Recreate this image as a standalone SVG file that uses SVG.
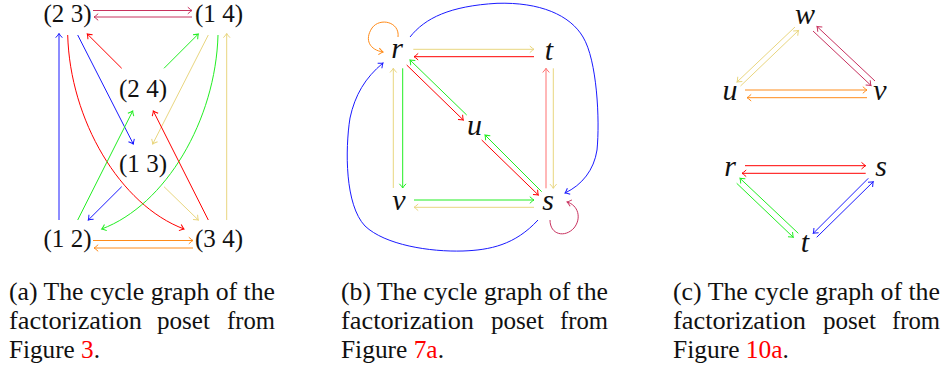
<svg xmlns="http://www.w3.org/2000/svg" width="943" height="372" viewBox="0 0 943 372">
<style>
.e{fill:none;stroke-width:1}
.rd{stroke:#ff0000}.bl{stroke:#1a1aff}.gr{stroke:#22ee22}.yl{stroke:#e9d67f}.or{stroke:#ff8c1a}.cr{stroke:#c8325f}.pr{stroke:#ff7070}
.lbl{font-family:"Liberation Serif","Tinos","Times New Roman",serif;font-size:25px;fill:#111;text-anchor:middle}
.var{font-family:"Liberation Serif","Tinos","Times New Roman",serif;font-style:italic;font-size:30px;fill:#111;text-anchor:middle}
.cap{font-family:"Liberation Serif","Tinos","Times New Roman",serif;font-size:25px;fill:#111}
.ref{fill:#ff0000}
</style>
<defs>
<marker id="m-rd" markerUnits="userSpaceOnUse" markerWidth="10" markerHeight="10" refX="0" refY="0" orient="auto" overflow="visible"><path d="M-4.2,-3.3 Q-1.2,-0.6 0,0 Q-1.2,0.6 -4.2,3.3" fill="none" stroke="#ff0000" stroke-width="1"/></marker>
<marker id="m-bl" markerUnits="userSpaceOnUse" markerWidth="10" markerHeight="10" refX="0" refY="0" orient="auto" overflow="visible"><path d="M-4.2,-3.3 Q-1.2,-0.6 0,0 Q-1.2,0.6 -4.2,3.3" fill="none" stroke="#1a1aff" stroke-width="1"/></marker>
<marker id="m-gr" markerUnits="userSpaceOnUse" markerWidth="10" markerHeight="10" refX="0" refY="0" orient="auto" overflow="visible"><path d="M-4.2,-3.3 Q-1.2,-0.6 0,0 Q-1.2,0.6 -4.2,3.3" fill="none" stroke="#22ee22" stroke-width="1"/></marker>
<marker id="m-yl" markerUnits="userSpaceOnUse" markerWidth="10" markerHeight="10" refX="0" refY="0" orient="auto" overflow="visible"><path d="M-4.2,-3.3 Q-1.2,-0.6 0,0 Q-1.2,0.6 -4.2,3.3" fill="none" stroke="#e9d67f" stroke-width="1"/></marker>
<marker id="m-or" markerUnits="userSpaceOnUse" markerWidth="10" markerHeight="10" refX="0" refY="0" orient="auto" overflow="visible"><path d="M-4.2,-3.3 Q-1.2,-0.6 0,0 Q-1.2,0.6 -4.2,3.3" fill="none" stroke="#ff8c1a" stroke-width="1"/></marker>
<marker id="m-cr" markerUnits="userSpaceOnUse" markerWidth="10" markerHeight="10" refX="0" refY="0" orient="auto" overflow="visible"><path d="M-4.2,-3.3 Q-1.2,-0.6 0,0 Q-1.2,0.6 -4.2,3.3" fill="none" stroke="#c8325f" stroke-width="1"/></marker>
<marker id="m-pr" markerUnits="userSpaceOnUse" markerWidth="10" markerHeight="10" refX="0" refY="0" orient="auto" overflow="visible"><path d="M-4.2,-3.3 Q-1.2,-0.6 0,0 Q-1.2,0.6 -4.2,3.3" fill="none" stroke="#ff7070" stroke-width="1"/></marker>
</defs>

<!-- Panel (a) -->
<g id="a-connectors">
<path class="e cr" d="M93,10.5 L192,10.5" marker-end="url(#m-cr)"/>
<path class="e cr" d="M192,17 L94,17" marker-end="url(#m-cr)"/>
<path class="e bl" d="M59,220 L59,33.5" marker-end="url(#m-bl)"/>
<path class="e rd" d="M67.7,35 C70,120 120,205 184,229" marker-end="url(#m-rd)"/>
<path class="e gr" d="M218,35 C215.7,120 165.7,205 101.7,229" marker-end="url(#m-gr)"/>
<path class="e rd" d="M121.7,68.3 L87.3,34" marker-end="url(#m-rd)"/>
<path class="e gr" d="M164,68.3 L198.3,34" marker-end="url(#m-gr)"/>
<path class="e bl" d="M77.7,35 L133.3,144" marker-end="url(#m-bl)"/>
<path class="e yl" d="M208.3,35 L152.7,144" marker-end="url(#m-yl)"/>
<path class="e gr" d="M77.7,220 L132.7,111" marker-end="url(#m-gr)"/>
<path class="e rd" d="M208.3,220 L153.3,111" marker-end="url(#m-rd)"/>
<path class="e bl" d="M121.7,186.7 L88.3,220" marker-end="url(#m-bl)"/>
<path class="e yl" d="M164,186.7 L198.3,220" marker-end="url(#m-yl)"/>
<path class="e yl" d="M226.7,220 L226.7,33.5" marker-end="url(#m-yl)"/>
<path class="e or" d="M93,240.5 L193,240.5" marker-end="url(#m-or)"/>
<path class="e or" d="M193,248 L94,248" marker-end="url(#m-or)"/>
</g>
<g id="a-n23"><text class="lbl" x="67.5" y="21.5" textLength="48" lengthAdjust="spacingAndGlyphs">(2 3)</text></g>
<g id="a-n14"><text class="lbl" x="219" y="21.5" textLength="48" lengthAdjust="spacingAndGlyphs">(1 4)</text></g>
<g id="a-n24"><text class="lbl" x="143" y="97" textLength="48" lengthAdjust="spacingAndGlyphs">(2 4)</text></g>
<g id="a-n13"><text class="lbl" x="143" y="171.5" textLength="48" lengthAdjust="spacingAndGlyphs">(1 3)</text></g>
<g id="a-n12"><text class="lbl" x="67.5" y="247" textLength="48" lengthAdjust="spacingAndGlyphs">(1 2)</text></g>
<g id="a-n34"><text class="lbl" x="219" y="247" textLength="48" lengthAdjust="spacingAndGlyphs">(3 4)</text></g>

<!-- Panel (b) -->
<g id="b-connectors">
<path class="e yl" d="M413.3,49.3 L534,49.3" marker-end="url(#m-yl)"/>
<path class="e rd" d="M534,56.7 L414,56.7" marker-end="url(#m-rd)"/>
<path class="e yl" d="M393.3,188 L393.3,68.3" marker-end="url(#m-yl)"/>
<path class="e gr" d="M402.7,68.3 L402.7,188" marker-end="url(#m-gr)"/>
<path class="e rd" d="M406.7,65 L463.3,120" marker-end="url(#m-rd)"/>
<path class="e gr" d="M466.7,115 L410,60" marker-end="url(#m-gr)"/>
<path class="e rd" d="M481.7,140 L538.3,195" marker-end="url(#m-rd)"/>
<path class="e gr" d="M541.7,191.7 L485,135" marker-end="url(#m-gr)"/>
<path class="e pr" d="M546,188.3 L546,68.3" marker-end="url(#m-pr)"/>
<path class="e yl" d="M553.3,68.3 L553.3,188.3" marker-end="url(#m-yl)"/>
<path class="e gr" d="M414,200 L534,200" marker-end="url(#m-gr)"/>
<path class="e yl" d="M534,207.3 L414,207.3" marker-end="url(#m-yl)"/>
<path class="e bl" d="M538,220 C515,245 490,250 463,251 C430,252 385,245 365,226 C345,205 345,150 350,118 C355,95 365,78 383,63" marker-end="url(#m-bl)"/>
<path class="e bl" d="M410,37 C425,18 450,6 497,3.3 C540,2 570,15 583,37 C597,60 600,120 597,150 C594,170 582,185 565,193" marker-end="url(#m-bl)"/>
<path class="e or" d="M398,37 C400,22 380,17 372,28 C364,40 370,50 383,52" marker-end="url(#m-or)"/>
<path class="e cr" d="M550,220 C550,235 565,238 574,228 C582,218 578,205 567,202" marker-end="url(#m-cr)"/>
</g>
<g id="b-r"><text class="var" x="397" y="58">r</text></g>
<g id="b-t"><text class="var" x="549" y="60">t</text></g>
<g id="b-u"><text class="var" x="474.5" y="135">u</text></g>
<g id="b-v"><text class="var" x="399" y="210">v</text></g>
<g id="b-s"><text class="var" x="548" y="210">s</text></g>

<!-- Panel (c) -->
<g id="c-connectors">
<path class="e yl" d="M795,27 L737,82" marker-end="url(#m-yl)"/>
<path class="e yl" d="M740.5,86 L798.5,30.5" marker-end="url(#m-yl)"/>
<path class="e cr" d="M813,31 L871,85.5" marker-end="url(#m-cr)"/>
<path class="e cr" d="M875,81 L817,26.5" marker-end="url(#m-cr)"/>
<path class="e or" d="M745,90 L867,90" marker-end="url(#m-or)"/>
<path class="e or" d="M867,97.7 L747,97.7" marker-end="url(#m-or)"/>
<path class="e rd" d="M745,165.7 L865.7,165.7" marker-end="url(#m-rd)"/>
<path class="e rd" d="M865.7,173.3 L742,173.3" marker-end="url(#m-rd)"/>
<path class="e gr" d="M798.3,233.3 L740,178.3" marker-end="url(#m-gr)"/>
<path class="e gr" d="M736.7,183.3 L793.3,237.3" marker-end="url(#m-gr)"/>
<path class="e bl" d="M868.3,178.3 L813.3,233.3" marker-end="url(#m-bl)"/>
<path class="e bl" d="M816.7,237.3 L873.3,181.7" marker-end="url(#m-bl)"/>
</g>
<g id="c-w"><text class="var" x="805" y="24">w</text></g>
<g id="c-u"><text class="var" x="730" y="100">u</text></g>
<g id="c-v"><text class="var" x="880" y="100">v</text></g>
<g id="c-r"><text class="var" x="730" y="176">r</text></g>
<g id="c-s"><text class="var" x="881" y="176">s</text></g>
<g id="c-t"><text class="var" x="805" y="252">t</text></g>

<!-- Captions -->
<g id="caption-a" class="cap">
<text x="9" y="300" textLength="266" lengthAdjust="spacingAndGlyphs">(a) The cycle graph of the</text>
<text x="9" y="329" textLength="133" lengthAdjust="spacingAndGlyphs">factorization</text>
<text x="157" y="329" textLength="53" lengthAdjust="spacingAndGlyphs">poset</text>
<text x="227" y="329" textLength="48" lengthAdjust="spacingAndGlyphs">from</text>
<text x="9" y="358" textLength="91" lengthAdjust="spacingAndGlyphs">Figure <tspan class="ref">3</tspan>.</text>
</g>
<g id="caption-b" class="cap">
<text x="341" y="300" textLength="267" lengthAdjust="spacingAndGlyphs">(b) The cycle graph of the</text>
<text x="341" y="329" textLength="133" lengthAdjust="spacingAndGlyphs">factorization</text>
<text x="491" y="329" textLength="53" lengthAdjust="spacingAndGlyphs">poset</text>
<text x="560" y="329" textLength="48" lengthAdjust="spacingAndGlyphs">from</text>
<text x="341" y="358" textLength="103" lengthAdjust="spacingAndGlyphs">Figure <tspan class="ref">7a</tspan>.</text>
</g>
<g id="caption-c" class="cap">
<text x="673" y="300" textLength="267" lengthAdjust="spacingAndGlyphs">(c) The cycle graph of the</text>
<text x="673" y="329" textLength="133" lengthAdjust="spacingAndGlyphs">factorization</text>
<text x="823" y="329" textLength="53" lengthAdjust="spacingAndGlyphs">poset</text>
<text x="892" y="329" textLength="48" lengthAdjust="spacingAndGlyphs">from</text>
<text x="673" y="358" textLength="116" lengthAdjust="spacingAndGlyphs">Figure <tspan class="ref">10a</tspan>.</text>
</g>
</svg>
